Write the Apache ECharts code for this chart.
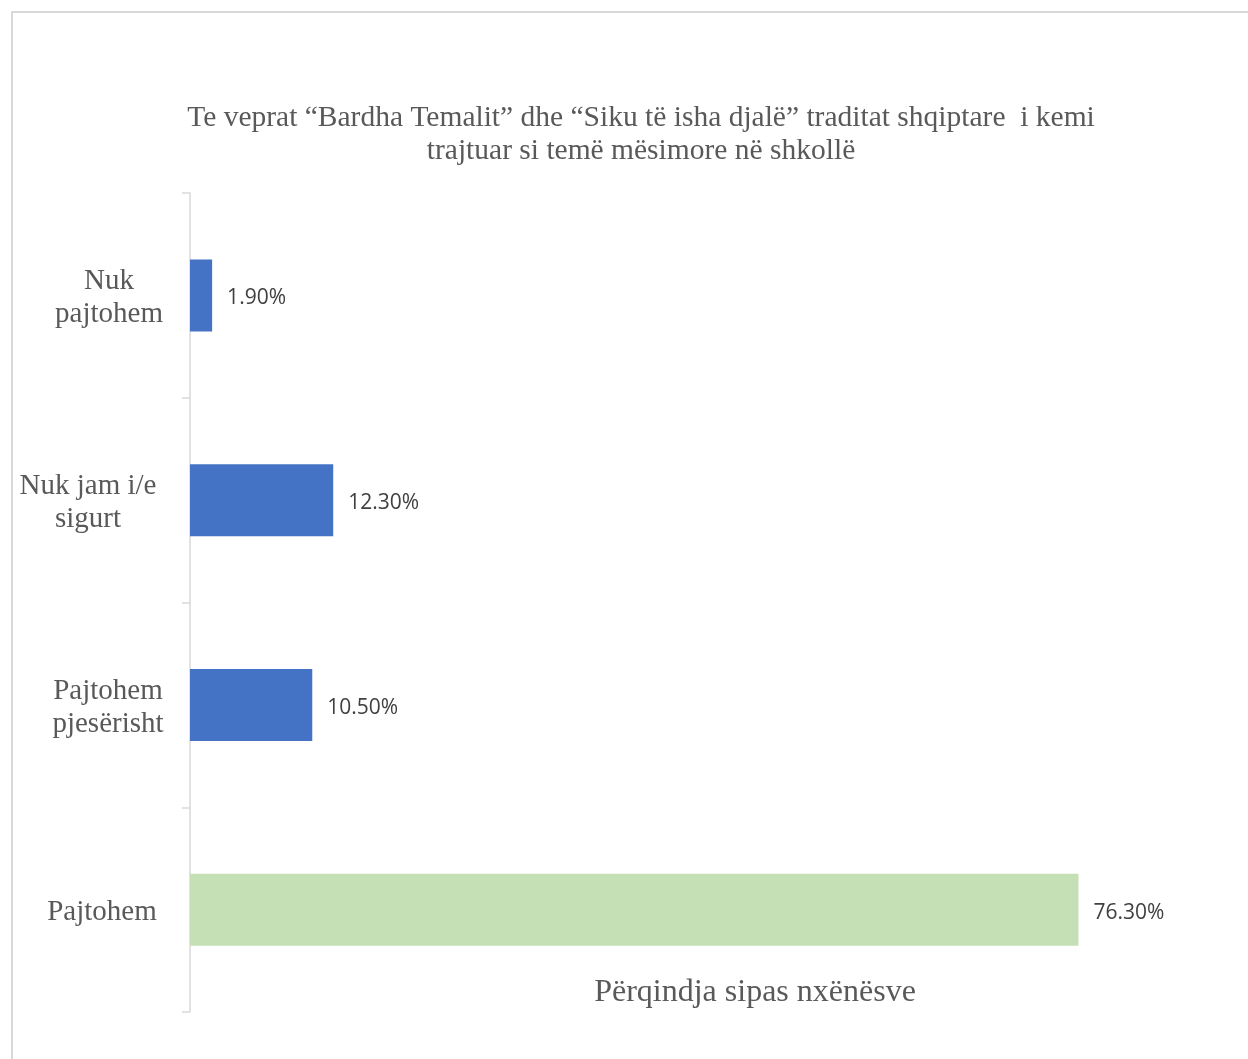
<!DOCTYPE html>
<html>
<head>
<meta charset="utf-8">
<script src="https://cdn.jsdelivr.net/npm/echarts@6/dist/echarts.min.js"></script>
<style>
html,body{margin:0;padding:0;background:#fff;}
#chart{width:1248px;height:1059px;}
</style>
</head>
<body>
<div id="chart"></div>
<script>
const titleText = 'Te veprat \u201cBardha Temalit\u201d dhe \u201cSiku t\u00eb isha djal\u00eb\u201d traditat shqiptare  i kemi\ntrajtuar si tem\u00eb m\u00ebsimore n\u00eb shkoll\u00eb';
const categories = ['Nuk pajtohem', 'Nuk jam i/e sigurt', 'Pajtohem pjes\u00ebrisht', 'Pajtohem'];
const categoryLines = [['Nuk', 'pajtohem'], ['Nuk jam i/e', 'sigurt'], ['Pajtohem', 'pjes\u00ebrisht'], ['Pajtohem']];
const values = [1.9, 12.3, 10.5, 76.3];
const barColors = ['#4472C4', '#4472C4', '#4472C4', '#C5E0B4'];
const xAxisName = 'P\u00ebrqindja sipas nx\u00ebn\u00ebsve';

const serif = '"Liberation Serif", "DejaVu Serif", serif';
const chart = echarts.init(document.getElementById('chart'));

const richStyles = {
  c0: {width: 112, align: 'center', fontFamily: serif, fontSize: 29, color: '#595959', lineHeight: 33},
  c1: {width: 138, align: 'center', fontFamily: serif, fontSize: 29, color: '#595959', lineHeight: 33, padding: [0, 8, 0, 0]},
  c2: {width: 114, align: 'center', fontFamily: serif, fontSize: 29, color: '#595959', lineHeight: 33},
  c3: {width: 112, align: 'center', fontFamily: serif, fontSize: 29, color: '#595959', lineHeight: 33, padding: [0, 7, 0, 0]}
};

chart.setOption({
  animation: false,
  backgroundColor: '#ffffff',
  title: {
    text: titleText,
    left: 636,
    top: 97,
    textAlign: 'center',
    textStyle: {fontFamily: serif, fontSize: 29.5, fontWeight: 'normal', color: '#595959', lineHeight: 33}
  },
  graphic: [{
    type: 'rect',
    shape: {x: 12, y: 12, width: 1300, height: 1100},
    style: {fill: 'none', stroke: '#d9d9d9', lineWidth: 2},
    silent: true
  }],
  grid: {left: 190, top: 193, width: 1048, bottom: 47, containLabel: false},
  xAxis: {
    type: 'value',
    min: 0,
    max: 90,
    axisLine: {show: false},
    axisTick: {show: false},
    axisLabel: {show: false},
    splitLine: {show: false},
    name: xAxisName,
    nameLocation: 'middle',
    nameGap: -35,
    nameTextStyle: {fontFamily: serif, fontSize: 32, color: '#595959', padding: [0, 0, 0, 82]}
  },
  yAxis: {
    type: 'category',
    data: categories,
    inverse: true,
    axisLine: {show: true, lineStyle: {color: '#d9d9d9', width: 1.5}},
    axisTick: {show: true, length: 8, lineStyle: {color: '#d9d9d9', width: 1.5}},
    axisLabel: {
      margin: 25,
      padding: [6, 0, 0, 0],
      formatter: function (v, i) {
        return categoryLines[i].map(l => '{c' + i + '|' + l + '}').join('\n');
      },
      rich: richStyles
    },
    splitLine: {show: false}
  },
  series: [{
    type: 'bar',
    data: values.map((v, i) => ({value: v, itemStyle: {color: barColors[i]}})),
    barWidth: 72,
    label: {
      show: true,
      position: 'right',
      distance: 15,
      offset: [0, 3],
      formatter: p => p.value.toFixed(2) + '%',
      fontFamily: '"Open Sans", "Noto Sans", sans-serif',
      fontSize: 21,
      color: '#404040'
    }
  }]
});
</script>
</body>
</html>
